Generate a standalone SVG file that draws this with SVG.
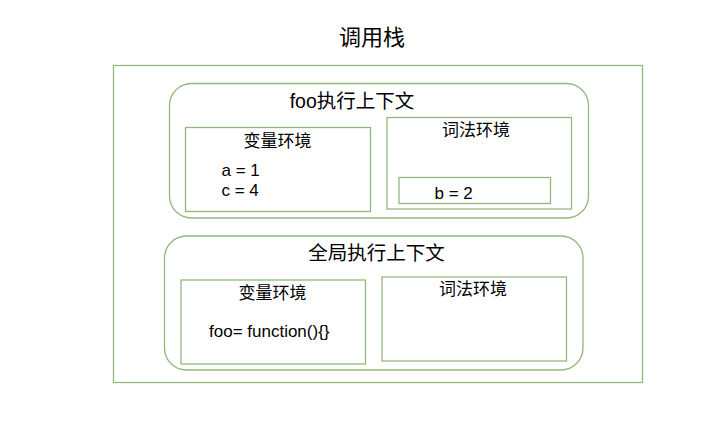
<svg xmlns="http://www.w3.org/2000/svg" width="720" height="437" viewBox="0 0 720 437">
<style>
.box{fill:none;stroke:#94b87b;stroke-width:1.3}
text{font-family:'Liberation Sans','Noto Sans CJK SC',sans-serif;fill:#000}
.t{font-size:22px}
.h{font-size:19.5px}
.s{font-size:17px}
.c{text-anchor:middle}
</style>
<rect width="720" height="437" fill="#fff"/>
<g id="call-stack">
<text class="t c" x="372" y="44.5">调用栈</text>
<rect class="box" x="113.5" y="65.5" width="529" height="317"/>
</g>
<g id="foo-context">
<rect class="box" x="169.5" y="83.5" width="419" height="134.5" rx="22"/>
<text class="h c" x="352" y="107.5">foo执行上下文</text>
</g>
<g id="foo-variable-env">
<rect class="box" x="185.5" y="127.5" width="185" height="84"/>
<text class="s c" x="277.5" y="147">变量环境</text>
<text class="s" x="221.5" y="176">a = 1</text>
<text class="s" x="221.5" y="196">c = 4</text>
</g>
<g id="foo-lexical-env">
<rect class="box" x="387" y="117.5" width="184.5" height="91.5"/>
<text class="s c" x="476" y="135.5">词法环境</text>
</g>
<g id="foo-lexical-b">
<rect class="box" x="399" y="177.5" width="151.5" height="26"/>
<text class="s" x="434.5" y="199">b = 2</text>
</g>
<g id="global-context">
<rect class="box" x="164.5" y="236" width="418.5" height="134" rx="22"/>
<text class="h c" x="376.5" y="259.5">全局执行上下文</text>
</g>
<g id="global-variable-env">
<rect class="box" x="181" y="280" width="184.5" height="84"/>
<text class="s c" x="272.5" y="299">变量环境</text>
<text class="s" x="209" y="337">foo= function(){}</text>
</g>
<g id="global-lexical-env">
<rect class="box" x="382" y="277" width="184.5" height="84"/>
<text class="s c" x="473" y="295">词法环境</text>
</g>
<g id="connectors"></g>
</svg>
